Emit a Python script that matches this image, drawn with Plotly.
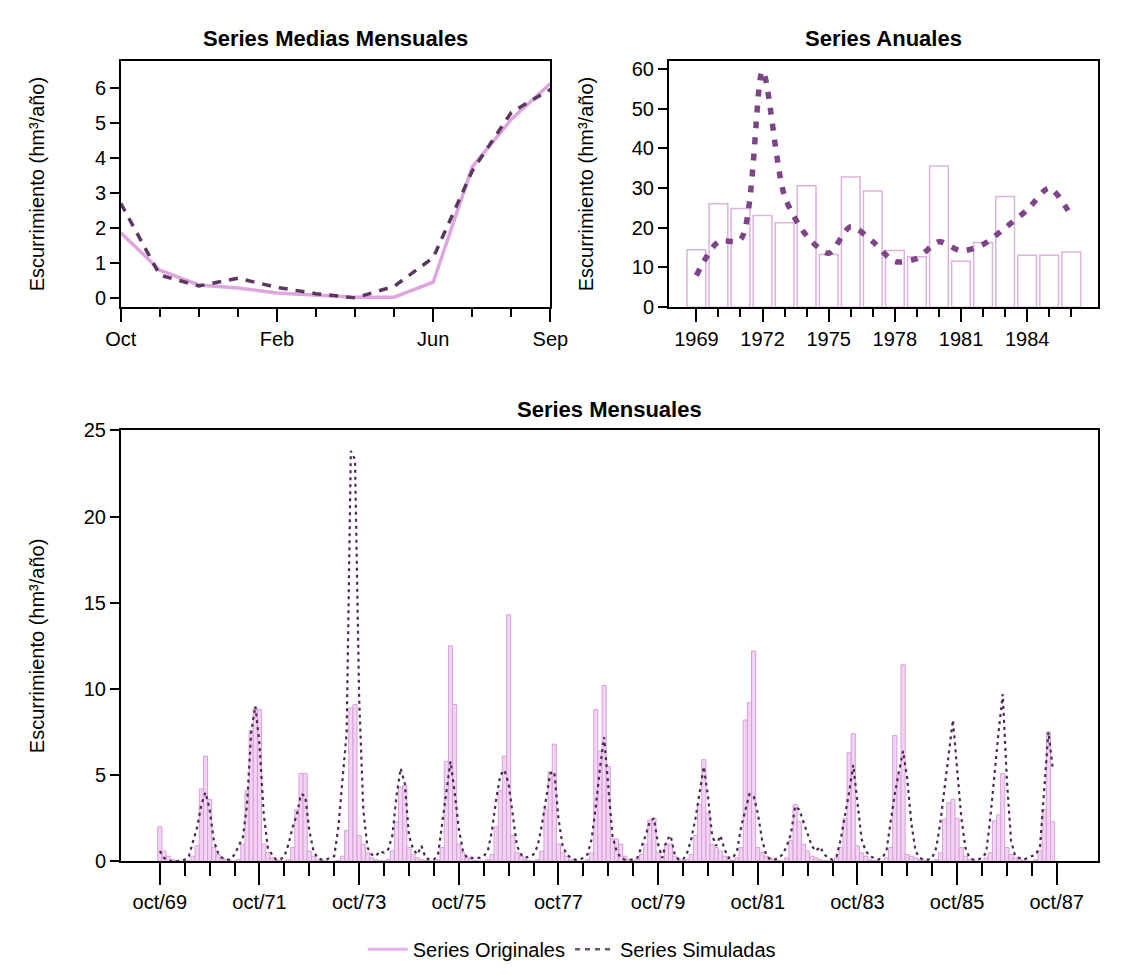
import plotly.graph_objects as go

W, H = 1130, 975

# ---------------- data ----------------
month_labels = ["Oct", "Nov", "Dec", "Jan", "Feb", "Mar", "Apr", "May", "Jun", "Jul", "Aug", "Sep"]
month_tick_labels = ["Oct", "Feb", "Jun", "Sep"]

mean_orig = [1.86, 0.79, 0.37, 0.28, 0.14, 0.08, 0.02, 0.02, 0.45, 3.74, 5.10, 6.12]
mean_sim = [2.70, 0.65, 0.34, 0.56, 0.30, 0.12, 0.0, 0.33, 1.15, 3.63, 5.30, 5.95]

years = list(range(1969, 1987))
year_tick_labels = [1969, 1972, 1975, 1978, 1981, 1984]
annual_orig = [14.5, 26.1, 24.9, 23.1, 21.3, 30.6, 13.3, 32.8, 29.3, 14.3, 12.7, 35.6,
               11.6, 16.3, 27.9, 13.1, 13.1, 13.9]
annual_sim = [8.0, 16.5, 17.0, 59.5, 28.0, 18.0, 13.6, 20.3, 16.5, 11.5, 12.3, 16.5,
              14.2, 15.8, 20.0, 24.5, 30.0, 23.0]

# monthly series, Oct 1969 .. Sep 1987 (one row per hydrological year)
orig_monthly = [
    2.0, 0.6, 0.3, 0.1, 0.05, 0.02, 0.0, 0.05, 0.3, 0.9, 4.2, 6.1,
    3.6, 0.8, 0.4, 0.2, 0.1, 0.05, 0.02, 0.1, 1.0, 4.1, 7.6, 8.9,
    8.8, 1.0, 0.5, 0.2, 0.1, 0.05, 0.02, 0.1, 0.8, 3.0, 5.1, 5.1,
    0.6, 0.3, 0.1, 0.05, 0.02, 0.0, 0.0, 0.05, 0.3, 1.8, 8.9, 9.1,
    1.5, 1.0, 0.5, 0.2, 0.1, 0.05, 0.02, 0.1, 0.6, 2.3, 4.3, 4.4,
    0.8, 0.4, 0.2, 0.1, 0.05, 0.02, 0.0, 0.1, 0.8, 5.8, 12.5, 9.1,
    1.0, 0.5, 0.2, 0.1, 0.05, 0.02, 0.0, 0.1, 0.4, 2.0, 4.1, 6.1,
    14.3, 1.5, 0.5, 0.3, 0.1, 0.05, 0.02, 0.1, 0.6, 3.0, 5.2, 6.8,
    1.0, 0.5, 0.3, 0.1, 0.05, 0.02, 0.0, 0.1, 0.5, 8.8, 6.4, 10.2,
    5.5, 1.3, 1.3, 1.0, 0.3, 0.1, 0.05, 0.1, 0.4, 1.0, 2.4, 2.5,
    0.5, 0.3, 1.0, 1.0, 0.3, 0.1, 0.05, 0.1, 0.4, 1.5, 3.3, 5.9,
    2.8, 1.0, 0.8, 0.6, 0.3, 0.1, 0.05, 0.2, 0.8, 8.2, 9.2, 12.2,
    0.8, 0.5, 0.3, 0.2, 0.1, 0.05, 0.02, 0.2, 1.2, 3.3, 2.3, 1.0,
    0.6, 0.3, 0.2, 0.1, 0.05, 0.02, 0.0, 0.2, 0.8, 2.5, 6.3, 7.4,
    0.9, 0.5, 0.3, 0.1, 0.05, 0.02, 0.0, 0.2, 0.8, 7.3, 5.0, 11.4,
    0.4, 0.3, 0.2, 0.1, 0.05, 0.02, 0.0, 0.1, 0.5, 2.45, 3.4, 3.6,
    2.5, 0.8, 0.3, 0.1, 0.05, 0.02, 0.0, 0.2, 0.5, 2.35, 2.7, 5.1,
    0.8, 0.4, 0.2, 0.1, 0.05, 0.02, 0.0, 0.1, 0.6, 3.0, 7.5, 2.3,
]
sim_monthly = [
    0.6, 0.2, 0.05, 0.0, 0.0, 0.05, 0.1, 0.3, 1.2, 2.0, 3.3, 4.0,
    3.0, 1.2, 0.5, 0.2, 0.1, 0.1, 0.4, 0.9, 1.4, 3.3, 7.5, 9.0,
    6.8, 2.8, 0.8, 0.4, 0.1, 0.1, 0.3, 1.0, 2.0, 2.7, 3.9, 3.8,
    1.8, 0.6, 0.2, 0.1, 0.1, 0.2, 0.3, 2.0, 4.7, 7.5, 23.8, 23.3,
    9.5, 3.0, 0.8, 0.4, 0.3, 0.6, 0.5, 0.7, 1.5, 3.8, 5.4, 4.5,
    1.5, 0.7, 0.4, 0.9, 0.2, 0.1, 0.1, 0.4, 2.2, 4.0, 5.8, 4.0,
    1.9, 0.6, 0.2, 0.2, 0.2, 0.2, 0.3, 0.6, 1.8, 3.6, 5.0, 5.3,
    4.5, 2.8, 0.9, 0.4, 0.2, 0.3, 0.4, 0.9, 2.1, 3.6, 5.1, 5.2,
    2.5, 0.9, 0.4, 0.2, 0.1, 0.1, 0.2, 0.4, 1.3, 3.2, 5.4, 7.2,
    4.5, 1.5, 0.6, 0.2, 0.1, 0.1, 0.1, 0.2, 0.8, 1.5, 2.3, 2.5,
    1.0, 0.2, 1.2, 1.5, 0.4, 0.1, 0.1, 0.5, 1.3, 2.5, 4.0, 5.5,
    3.8, 1.5, 0.9, 1.5, 0.7, 0.2, 0.2, 0.6, 2.0, 3.0, 3.9, 3.8,
    2.8, 1.3, 0.4, 0.1, 0.1, 0.2, 0.4, 0.9, 1.6, 3.2, 3.0, 2.3,
    1.6, 0.9, 0.6, 0.85, 0.4, 0.2, 0.1, 0.3, 1.3, 2.6, 4.0, 5.6,
    3.4, 1.3, 0.6, 0.3, 0.2, 0.1, 0.2, 0.6, 2.3, 3.9, 5.2, 6.4,
    4.8, 2.2, 0.6, 0.2, 0.1, 0.1, 0.2, 0.8, 2.3, 4.3, 6.4, 8.2,
    5.4, 2.6, 0.8, 0.2, 0.1, 0.1, 0.2, 0.5, 2.5, 5.2, 7.5, 9.7,
    4.7, 1.2, 0.3, 0.2, 0.1, 0.2, 0.3, 0.4, 0.9, 4.5, 7.5, 5.5,
]
monthly_tick_labels = ["oct/69", "oct/71", "oct/73", "oct/75", "oct77",
                       "oct/79", "oct/81", "oct/83", "oct/85", "oct/87"]

# ---------------- styling ----------------
PINK = "#dea5de"
PINK_FILL = "#f3d3f3"
PINK_EDGE = "#d8a0d8"
DARK = "#5a3860"
PURPLE = "#7d4588"
FONT = "Liberation Sans, Arial, sans-serif"

month_pos = list(range(len(month_labels)))
mi = list(range(len(orig_monthly)))
n_months = len(orig_monthly)


def px_x(p):
    return p / W


def px_y(p):
    return 1 - p / H


fig = go.Figure()

# top-left
fig.add_trace(go.Scatter(x=month_pos, y=mean_orig, mode="lines", xaxis="x", yaxis="y",
                         line=dict(color=PINK, width=3.5), showlegend=False))
fig.add_trace(go.Scatter(x=month_pos, y=mean_sim, mode="lines", xaxis="x", yaxis="y",
                         line=dict(color=DARK, width=3.5, dash="9px,8px"), showlegend=False))

# top-right
fig.add_trace(go.Bar(x=years, y=annual_orig, xaxis="x2", yaxis="y2", width=0.85,
                     marker=dict(color="white", line=dict(color="#dcb2dc", width=1.5)),
                     showlegend=False))
fig.add_trace(go.Scatter(x=years, y=annual_sim, mode="lines", xaxis="x2", yaxis="y2",
                         line=dict(color=PURPLE, width=5.5, dash="7px,9px", shape="spline",
                                   smoothing=0.8),
                         showlegend=False))

# bottom
fig.add_trace(go.Bar(x=mi, y=orig_monthly, xaxis="x3", yaxis="y3", width=1.0,
                     marker=dict(color=PINK_FILL, line=dict(color=PINK_EDGE, width=1)),
                     showlegend=False))
fig.add_trace(go.Scatter(x=mi, y=sim_monthly, mode="lines", xaxis="x3", yaxis="y3",
                         line=dict(color="#4a2a50", width=2.2, dash="3px,4px"),
                         showlegend=False))

# legend entries
fig.add_trace(go.Scatter(x=[None], y=[None], mode="lines", name="Series Originales",
                         xaxis="x3", yaxis="y3", line=dict(color="#e6b0e6", width=3)))
fig.add_trace(go.Scatter(x=[None], y=[None], mode="lines", name="Series Simuladas",
                         xaxis="x3", yaxis="y3", line=dict(color="#6a556c", width=2.5, dash="5px,5px")))

axis_common = dict(showline=True, linecolor="black", linewidth=1.5, mirror=True,
                   ticks="outside", tickcolor="black", tickwidth=1.5, showgrid=False,
                   zeroline=False, tickfont=dict(size=20, color="black", family=FONT))

# domains (pixel based)
TL = (108, 551)
TR = (673, 1116)
TOP_Y = (51, 303)
BOT_X = (108, 1116)
BOT_Y = (429, 870)

tl_ppu = (293.5 - 78.5) / 6
tl_range = [-(TOP_Y[1] - 293.5) / tl_ppu, 6 + (78.5 - TOP_Y[0]) / tl_ppu]
tr_ppu = (303 - 59.5) / 60
tr_range = [0, 60 + (59.5 - TOP_Y[0]) / tr_ppu]
tr_xppu = (1088 - 701.5) / 17
tr_xrange = [1969 - (701.5 - TR[0]) / tr_xppu, 1986 + (TR[1] - 1088) / tr_xppu]
b_ppm = (1073.0 - 148.3) / 216
b_xrange = [-(148.3 - BOT_X[0]) / b_ppm, (BOT_X[1] - 148.3) / b_ppm]

minor_style = dict(ticks="outside", tickcolor="black", tickwidth=1.5)

fig.update_layout(
    width=W, height=H,
    margin=dict(l=0, r=0, t=0, b=0),
    paper_bgcolor="white", plot_bgcolor="white",
    font=dict(family=FONT, color="black", size=20),
    xaxis=dict(domain=[px_x(TL[0]), px_x(TL[1])], anchor="y", range=[0, len(month_labels) - 1],
               tickmode="array",
               tickvals=[month_labels.index(m) for m in month_tick_labels],
               ticktext=month_tick_labels, ticklen=13,
               minor=dict(tickmode="array", tickvals=month_pos, ticklen=8, **minor_style),
               **axis_common),
    yaxis=dict(domain=[px_y(TOP_Y[1]), px_y(TOP_Y[0])], anchor="x", range=tl_range,
               tickmode="linear", tick0=0, dtick=1, ticklen=9, **axis_common),
    xaxis2=dict(domain=[px_x(TR[0]), px_x(TR[1])], anchor="y2", range=tr_xrange,
                tickmode="array", tickvals=year_tick_labels,
                ticktext=[str(y) for y in year_tick_labels], ticklen=13,
                minor=dict(tickmode="array", tickvals=years, ticklen=8, **minor_style),
                **axis_common),
    yaxis2=dict(domain=[px_y(TOP_Y[1]), px_y(TOP_Y[0])], anchor="x2", range=tr_range,
                tickmode="linear", tick0=0, dtick=10, ticklen=9, **axis_common),
    xaxis3=dict(domain=[px_x(BOT_X[0]), px_x(BOT_X[1])], anchor="y3", range=b_xrange,
                tickmode="array", tickvals=[24 * k for k in range(len(monthly_tick_labels))],
                ticktext=monthly_tick_labels, ticklen=22,
                minor=dict(tickmode="array", tickvals=list(range(0, n_months + 1, 6)),
                           ticklen=13, **minor_style),
                **axis_common),
    yaxis3=dict(domain=[px_y(BOT_Y[1]), px_y(BOT_Y[0])], anchor="x3", range=[0, 25],
                tickmode="linear", tick0=0, dtick=5, ticklen=9, **axis_common),
    legend=dict(orientation="h", x=0.507, xanchor="center", y=px_y(960), yanchor="middle",
                font=dict(size=20, family=FONT, color="black"), bgcolor="rgba(0,0,0,0)",
                itemwidth=40),
    showlegend=True,
)

ann = []
title_font = dict(size=22, family=FONT, color="black")
for txt, cx, cy in [("<b>Series Medias Mensuales</b>", (TL[0] + TL[1]) / 2, 28),
                    ("<b>Series Anuales</b>", (TR[0] + TR[1]) / 2, 28),
                    ("<b>Series Mensuales</b>", (BOT_X[0] + BOT_X[1]) / 2, 408)]:
    ann.append(dict(text=txt, x=px_x(cx), y=px_y(cy), xref="paper", yref="paper",
                    showarrow=False, xanchor="center", yanchor="middle", font=title_font))
ylab = "Escurrimiento (hm³/año)"
for cx, cy in [(22, (TOP_Y[0] + TOP_Y[1]) / 2), (588, (TOP_Y[0] + TOP_Y[1]) / 2),
               (22, (BOT_Y[0] + BOT_Y[1]) / 2)]:
    ann.append(dict(text=ylab, x=px_x(cx), y=px_y(cy), xref="paper", yref="paper",
                    showarrow=False, xanchor="center", yanchor="middle", textangle=-90,
                    font=dict(size=20, family=FONT, color="black")))
fig.update_layout(annotations=ann)

fig.write_html("out.html")
